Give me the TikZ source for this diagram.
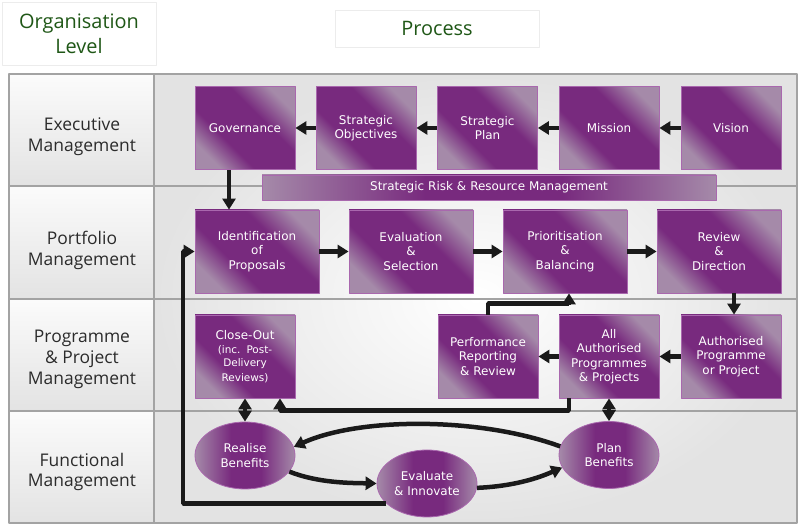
\documentclass[tikz,border=0pt]{standalone}
\usepackage{fontspec}
\setmainfont{Open Sans}
\newfontfamily\boxfont{DejaVu Sans}
\usetikzlibrary{arrows.meta,shapes.geometric}
\definecolor{plum}{HTML}{782A7E}
\definecolor{plumlight}{HTML}{A58AA9}
\definecolor{plumedge}{HTML}{A968AE}
\definecolor{headgreen}{HTML}{1F5716}
\definecolor{labelgrey}{HTML}{2B2B2B}
\definecolor{gridgrey}{HTML}{A3A3A3}
\definecolor{arrowblack}{HTML}{1A1A1A}
\pgfdeclarehorizontalshading{plumbox}{100bp}{color(0bp)=(plumlight); color(25bp)=(plumlight); color(38bp)=(plum); color(60bp)=(plum); color(75bp)=(plumlight); color(100bp)=(plumlight)}
\pgfdeclarehorizontalshading{plumoval}{100bp}{color(0bp)=(plumlight); color(25bp)=(plumlight); color(43bp)=(plum); color(58bp)=(plum); color(75bp)=(plumlight); color(100bp)=(plumlight)}
\begin{document}
\begin{tikzpicture}[x=1bp,y=1bp,line join=bevel,
  headbox/.style={draw=gray!15,fill=white,align=center,text=headgreen,font=\fontsize{20}{25}\selectfont},
  lvl/.style={align=center,text=labelgrey,font=\fontsize{17.5}{21}\selectfont},
  procbox/.style={draw=plumedge,line width=0.8bp,shade,shading=plumbox,shading angle=45,
    minimum width=100bp,minimum height=83bp,text width=96bp,inner sep=0pt,align=center,
    text=white,font=\boxfont\fontsize{12}{14.5}\selectfont},
  widebox/.style={procbox,minimum width=124bp,text width=120bp},
  ovalbox/.style={ellipse,draw=plumedge,line width=0.8bp,shade,shading=plumoval,
    minimum width=100bp,minimum height=67bp,inner sep=0pt,align=center,
    text=white,font=\boxfont\fontsize{12}{14.5}\selectfont},
  gridline/.style={draw=gridgrey,line width=1.5bp},
  flow/.style={draw=arrowblack,line width=4.5bp,-{Triangle[length=11bp,width=13bp]}},
  twoway/.style={flow,{Triangle[length=11bp,width=13bp]}-{Triangle[length=11bp,width=13bp]}},
]
\useasboundingbox (0,0) rectangle (800,527);
%% headers
\node (node_orglevel) at (79bp,493.5bp) [headbox,minimum width=154bp,minimum height=63bp] {Organisation\\Level};
\node (node_process) at (437bp,498.5bp) [headbox,minimum width=204bp,minimum height=37bp] {Process};
%% frame
\fill[gray!16] (9,4) rectangle (797,453);
\shade[inner color=white,outer color=gray!22] (154,4) rectangle (797,453);
\foreach \top/\bot in {453/341,341/228,228/116,116/4}
  \shade[top color=white!97!gray,bottom color=gray!22] (9,\bot) rectangle (154,\top);
\draw[gridline] (9,4) rectangle (797,453);
\foreach \yy in {341,228,116}
  \draw[gridline] (9,\yy) -- (797,\yy);
\draw[gridline] (154,4) -- (154,453);
%% levels
\node (node_lvl_0) at (82bp,390bp) [lvl] {Executive\\Management};
\node (node_lvl_1) at (82bp,277bp) [lvl] {Portfolio\\Management};
\node (node_lvl_2) at (82bp,168bp) [lvl] {Programme\\\& Project\\Management};
\node (node_lvl_3) at (82bp,55bp) [lvl] {Functional\\Management};
%% executive row
\node (node_gov) at (245bp,399bp) [procbox] {Governance};
\node (node_obj) at (366bp,399bp) [procbox] {Strategic\\Objectives};
\node (node_splan) at (487.5bp,399bp) [procbox] {Strategic\\Plan};
\node (node_mission) at (609bp,399bp) [procbox] {Mission};
\node (node_vision) at (731bp,399bp) [procbox] {Vision};
\node (node_risk) at (489bp,339.5bp) [procbox,shading=plumoval,shading angle=0,minimum width=454bp,text width=450bp,minimum height=25bp] {Strategic Risk \& Resource Management};
%% portfolio row
\node (node_ident) at (257bp,275.5bp) [widebox] {Identification\\of\\Proposals};
\node (node_evalsel) at (411bp,275.5bp) [widebox] {Evaluation\\\&\\Selection};
\node (node_prio) at (565bp,275.5bp) [widebox] {Prioritisation\\\&\\Balancing};
\node (node_review) at (719bp,275.5bp) [widebox] {Review\\\&\\Direction};
%% programme row
\node (node_close) at (245bp,170.5bp) [procbox] {Close-Out\\{\fontsize{10.5}{13.5}\selectfont (inc. Post-\\Delivery\\Reviews)}};
\node (node_perf) at (488bp,170.5bp) [procbox] {Performance\\Reporting\\\& Review};
\node (node_all) at (609bp,170.5bp) [procbox] {All\\Authorised\\Programmes\\\& Projects};
\node (node_auth) at (731bp,170.5bp) [procbox] {Authorised\\Programme\\or Project};
%% functional row
\node (node_realise) at (245bp,71.5bp) [ovalbox] {Realise\\Benefits};
\node (node_evalinn) at (427bp,43.5bp) [ovalbox] {Evaluate\\\& Innovate};
\node (node_pben) at (609bp,72bp) [ovalbox] {Plan\\Benefits};
%% connectors
\draw[flow] (node_vision) -- (node_mission);
\draw[flow] (node_mission) -- (node_splan);
\draw[flow] (node_splan) -- (node_obj);
\draw[flow] (node_obj) -- (node_gov);
\coordinate (govdrop) at ([xshift=-16bp]node_gov.south);
\draw[flow] (govdrop) -- (govdrop |- node_ident.north);
\draw[flow] (node_ident) -- (node_evalsel);
\draw[flow] (node_evalsel) -- (node_prio);
\draw[flow] (node_prio) -- (node_review);
\coordinate (revdrop) at ([xshift=15bp]node_review.south);
\draw[flow] (revdrop) -- (revdrop |- node_auth.north);
\draw[flow] (node_auth) -- (node_all);
\draw[flow] (node_all) -- (node_perf);
\draw[flow] (node_perf.north) -- ++(0,11) -| ([xshift=4bp]node_prio.south);
\draw[flow] ([xshift=-40bp]node_all.south) -- ++(0,-12) -| ([xshift=35bp]node_close.south);
\draw[twoway] (node_close) -- (node_realise);
\draw[twoway] (node_all) -- (node_pben);
\draw[flow] (node_pben.170) .. controls (480bp,110bp) and (360bp,110bp) .. (node_realise.10);
\draw[flow] (node_realise.-20) .. controls (318bp,44bp) and (350bp,44bp) .. (node_evalinn.west);
\draw[flow] (node_evalinn.-5) .. controls (520bp,41bp) and (545bp,52bp) .. (node_pben.195);
\coordinate (loopcorner) at (183bp,0bp);
\draw[flow] (node_evalinn.206) -| (loopcorner |- node_ident.west) -- (node_ident.west);
%
\end{tikzpicture}
\end{document}
